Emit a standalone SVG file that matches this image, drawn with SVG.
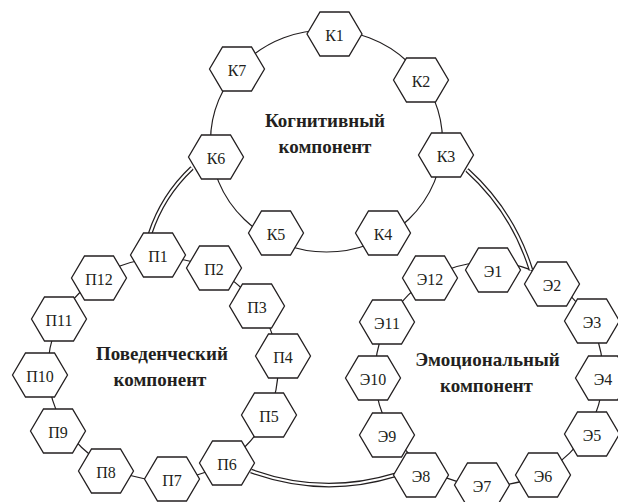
<svg xmlns="http://www.w3.org/2000/svg" xmlns:xlink="http://www.w3.org/1999/xlink" width="618" height="502" viewBox="0 0 618 502">
  <style>
    .ring { fill: none; stroke: #231f20; stroke-width: 1.2; }
    .dbl-out { fill: none; stroke: #231f20; stroke-width: 4.6; }
    .dbl-in { fill: none; stroke: #ffffff; stroke-width: 2.2; }
    .hex { fill: #ffffff; stroke: #231f20; stroke-width: 1.3; stroke-linejoin: miter; }
    .lbl { font-family: "Liberation Serif", "Times New Roman", serif; font-size: 16px; fill: #231f20; text-anchor: middle; }
    .title { font-family: "Liberation Serif", "Times New Roman", serif; font-size: 19px; font-weight: bold; fill: #231f20; text-anchor: middle; }
  </style>
  <defs>
    <path id="hexshape" d="M-27.5,0 L-14.5,-22 L14.5,-22 L27.5,0 L14.5,22 L-14.5,22 Z"/>
  </defs>
  <rect x="0" y="0" width="618" height="502" fill="#ffffff"/>

  <g id="connectors">
    <ellipse class="ring" cx="326.5" cy="141" rx="116" ry="111"/>
    <ellipse class="ring" cx="163" cy="369" rx="115" ry="111"/>
    <ellipse class="ring" cx="489" cy="374" rx="114" ry="112"/>
    <path class="dbl-out" d="M192,168 Q162.6,195.6 150,234"/>
    <path class="dbl-in" d="M192,168 Q162.6,195.6 150,234"/>
    <path class="dbl-out" d="M467,170 Q512.5,211 531,270"/>
    <path class="dbl-in" d="M467,170 Q512.5,211 531,270"/>
    <path class="dbl-out" d="M251,471 Q323,497 395,475"/>
    <path class="dbl-in" d="M251,471 Q323,497 395,475"/>
  </g>

  <g id="K1"><use href="#hexshape" class="hex" x="334.5" y="34"/><text class="lbl" x="334.5" y="41">К1</text></g>
  <g id="K2"><use href="#hexshape" class="hex" x="421" y="80"/><text class="lbl" x="421" y="87">К2</text></g>
  <g id="K3"><use href="#hexshape" class="hex" x="446" y="155"/><text class="lbl" x="446" y="162">К3</text></g>
  <g id="K4"><use href="#hexshape" class="hex" x="383" y="233"/><text class="lbl" x="383" y="240">К4</text></g>
  <g id="K5"><use href="#hexshape" class="hex" x="276" y="233"/><text class="lbl" x="276" y="240">К5</text></g>
  <g id="K6"><use href="#hexshape" class="hex" x="216" y="157"/><text class="lbl" x="216" y="164">К6</text></g>
  <g id="K7"><use href="#hexshape" class="hex" x="237" y="69"/><text class="lbl" x="237" y="76">К7</text></g>

  <g id="P1"><use href="#hexshape" class="hex" x="158" y="255"/><text class="lbl" x="158" y="262">П1</text></g>
  <g id="P2"><use href="#hexshape" class="hex" x="214" y="268"/><text class="lbl" x="214" y="275">П2</text></g>
  <g id="P3"><use href="#hexshape" class="hex" x="257" y="306"/><text class="lbl" x="257" y="313">П3</text></g>
  <g id="P4"><use href="#hexshape" class="hex" x="283" y="356"/><text class="lbl" x="283" y="363">П4</text></g>
  <g id="P5"><use href="#hexshape" class="hex" x="269" y="415"/><text class="lbl" x="269" y="422">П5</text></g>
  <g id="P6"><use href="#hexshape" class="hex" x="227" y="463"/><text class="lbl" x="227" y="470">П6</text></g>
  <g id="P7"><use href="#hexshape" class="hex" x="172" y="479"/><text class="lbl" x="172" y="486">П7</text></g>
  <g id="P8"><use href="#hexshape" class="hex" x="106" y="471"/><text class="lbl" x="106" y="478">П8</text></g>
  <g id="P9"><use href="#hexshape" class="hex" x="58" y="431"/><text class="lbl" x="58" y="438">П9</text></g>
  <g id="P10"><use href="#hexshape" class="hex" x="40" y="375"/><text class="lbl" x="40" y="382">П10</text></g>
  <g id="P11"><use href="#hexshape" class="hex" x="59" y="319"/><text class="lbl" x="59" y="326">П11</text></g>
  <g id="P12"><use href="#hexshape" class="hex" x="99" y="278"/><text class="lbl" x="99" y="285">П12</text></g>

  <g id="E1"><use href="#hexshape" class="hex" x="493" y="270"/><text class="lbl" x="493" y="277">Э1</text></g>
  <g id="E2"><use href="#hexshape" class="hex" x="552" y="284"/><text class="lbl" x="552" y="291">Э2</text></g>
  <g id="E3"><use href="#hexshape" class="hex" x="592" y="321"/><text class="lbl" x="592" y="328">Э3</text></g>
  <g id="E4"><use href="#hexshape" class="hex" x="603" y="378"/><text class="lbl" x="603" y="385">Э4</text></g>
  <g id="E5"><use href="#hexshape" class="hex" x="592" y="434"/><text class="lbl" x="592" y="441">Э5</text></g>
  <g id="E6"><use href="#hexshape" class="hex" x="543" y="475"/><text class="lbl" x="543" y="482">Э6</text></g>
  <g id="E7"><use href="#hexshape" class="hex" x="482" y="485"/><text class="lbl" x="482" y="492">Э7</text></g>
  <g id="E8"><use href="#hexshape" class="hex" x="421" y="475"/><text class="lbl" x="421" y="482">Э8</text></g>
  <g id="E9"><use href="#hexshape" class="hex" x="387" y="435"/><text class="lbl" x="387" y="442">Э9</text></g>
  <g id="E10"><use href="#hexshape" class="hex" x="373" y="378"/><text class="lbl" x="373" y="385">Э10</text></g>
  <g id="E11"><use href="#hexshape" class="hex" x="387" y="322"/><text class="lbl" x="387" y="329">Э11</text></g>
  <g id="E12"><use href="#hexshape" class="hex" x="430" y="278"/><text class="lbl" x="430" y="285">Э12</text></g>

  <g id="title-K"><text class="title" x="325" y="127">Когнитивный</text><text class="title" x="325" y="153">компонент</text></g>
  <g id="title-P"><text class="title" x="162" y="360">Поведенческий</text><text class="title" x="160" y="386">компонент</text></g>
  <g id="title-E"><text class="title" x="487.5" y="366">Эмоциональный</text><text class="title" x="486.5" y="392">компонент</text></g>
</svg>
